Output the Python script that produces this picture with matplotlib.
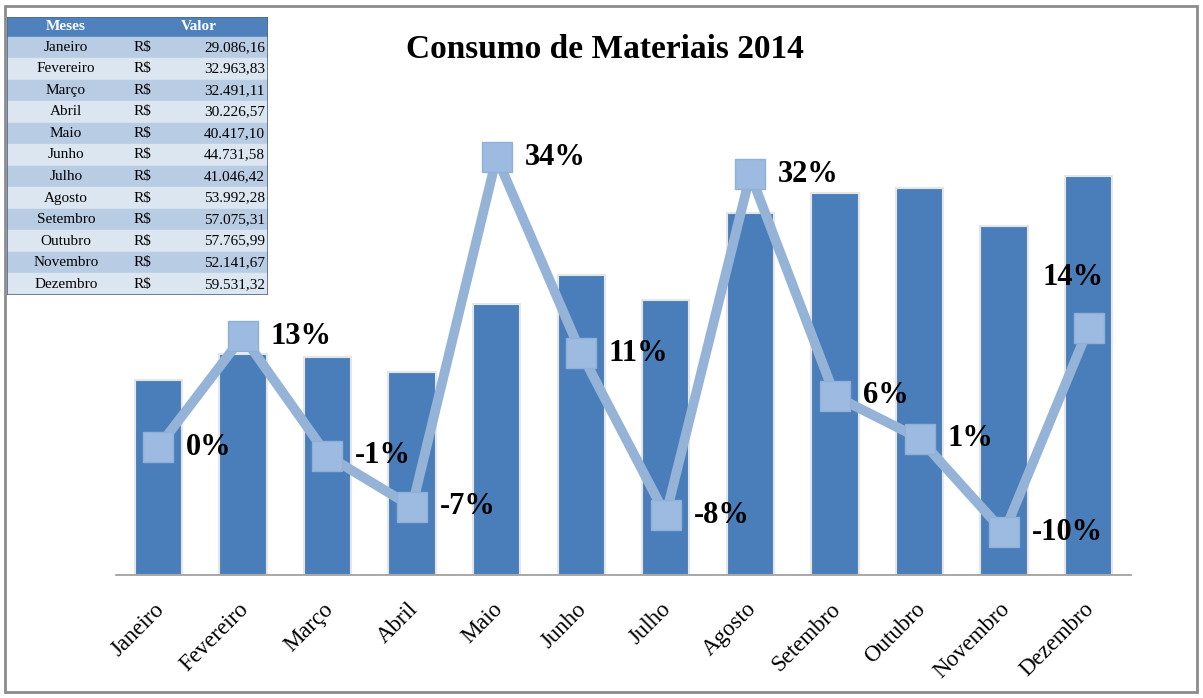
import numpy as np
import matplotlib.pyplot as plt
import matplotlib.transforms as mtrans
from matplotlib.patches import Rectangle

plt.rcParams['font.family'] = ['Liberation Serif', 'DejaVu Serif']

# dados
meses = ['Janeiro', 'Fevereiro', 'Março', 'Abril', 'Maio', 'Junho', 'Julho',
         'Agosto', 'Setembro', 'Outubro', 'Novembro', 'Dezembro']
valores = [29086.16, 32963.83, 32491.11, 30226.57, 40417.10, 44731.58,
           41046.42, 53992.28, 57075.31, 57765.99, 52141.67, 59531.32]
valores_txt = ['29.086,16', '32.963,83', '32.491,11', '30.226,57', '40.417,10',
               '44.731,58', '41.046,42', '53.992,28', '57.075,31', '57.765,99',
               '52.141,67', '59.531,32']
variacao = [0.00, 0.13, -0.01, -0.07, 0.34, 0.11, -0.08, 0.32, 0.06, 0.01, -0.10, 0.14]
variacao_txt = ['0%', '13%', '-1%', '-7%', '34%', '11%', '-8%', '32%', '6%', '1%', '-10%', '14%']

W, H = 1203, 698
fig = plt.figure(figsize=(W / 100, H / 100), dpi=100)
fig.patch.set_facecolor('white')

# moldura externa
fig.patches.append(Rectangle((5 / W, 6 / H), 1192 / W, 686 / H, transform=fig.transFigure,
                             fill=False, edgecolor='#8c8c8c', linewidth=2))

# grafico principal
ax = fig.add_axes([116 / W, 1 - 575 / H, (1131 - 116) / W, (575 - 106) / H])
x = np.arange(len(meses))
ax.bar(x, valores, width=0.56, color='#4a7ebb', edgecolor='#e6e6e6', linewidth=1.5, zorder=2)
ax.set_xlim(-0.5, len(meses) - 0.5)
ax.set_ylim(0, 70000)
for s in ['top', 'right', 'left']:
    ax.spines[s].set_visible(False)
ax.spines['bottom'].set_color('#9a9a9a')
ax.spines['bottom'].set_linewidth(1.2)
ax.set_yticks([])
ax.set_xticks(x)
ax.set_xticklabels(meses, rotation=45, ha='right', rotation_mode='anchor', fontsize=16.5)
ax.tick_params(axis='x', length=0, pad=17)
desloc = mtrans.ScaledTranslation(-5 / 100, 0, fig.dpi_scale_trans)
for lbl in ax.get_xticklabels():
    lbl.set_transform(lbl.get_transform() + desloc)

ax2 = ax.twinx()
ax2.set_ylim(-0.15, 0.40)
ax2.set_yticks([])
for s in ax2.spines.values():
    s.set_visible(False)
ax2.plot(x, variacao, color='#95b3d7', linewidth=7, marker='s', markersize=22,
         markerfacecolor='#9dbbe0', markeredgecolor='#8fb0d8', zorder=3)
for i, (v, t) in enumerate(zip(variacao, variacao_txt)):
    if i == len(variacao) - 1:
        ax2.annotate(t, (x[i], v), xytext=(-11, 36), textcoords='offset points',
                     ha='center', va='center', fontsize=22, fontweight='bold')
    else:
        ax2.annotate(t, (x[i], v), xytext=(20, 0), textcoords='offset points',
                     ha='left', va='center', fontsize=22, fontweight='bold')

fig.text(605 / W, 1 - 50 / H, 'Consumo de Materiais 2014', ha='center', va='center',
         fontsize=24, fontweight='bold')

# tabela
tx0, tx1, ty0, ty1 = 7, 268, 17, 295
tab = fig.add_axes([tx0 / W, 1 - ty1 / H, (tx1 - tx0) / W, (ty1 - ty0) / H])
tab.set_xlim(tx0, tx1)
tab.set_ylim(ty1, ty0)
tab.axis('off')
hh = 19.5
rh = (ty1 - ty0 - hh) / len(meses)
tab.axhspan(ty0, ty0 + hh, color='#4f81bd')
tab.text(66, ty0 + hh / 2, 'Meses', ha='center', va='center', color='white',
         fontsize=11, fontweight='bold')
tab.text(199, ty0 + hh / 2, 'Valor', ha='center', va='center', color='white',
         fontsize=11, fontweight='bold')
for i, (m, vt) in enumerate(zip(meses, valores_txt)):
    y0 = ty0 + hh + i * rh
    tab.axhspan(y0, y0 + rh, color='#b8cce4' if i % 2 == 0 else '#dce6f1')
    yc = y0 + rh / 2
    tab.text(66, yc, m, ha='center', va='center', fontsize=11)
    tab.text(142, yc, 'R$', ha='center', va='center', fontsize=11)
    tab.text(265, yc, vt, ha='right', va='center', fontsize=11)
tab.add_patch(Rectangle((tx0, ty0), tx1 - tx0, ty1 - ty0, fill=False,
                        edgecolor='#4f6b8f', linewidth=1.2))

fig.savefig('out.png', dpi=100)
